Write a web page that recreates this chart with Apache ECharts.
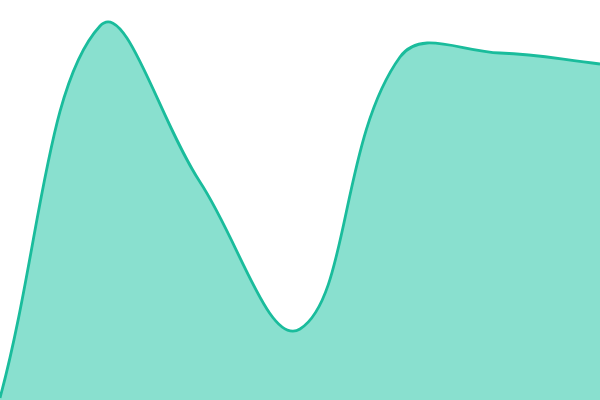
<!DOCTYPE html>
<html>
<head>
<meta charset="UTF-8">
<title></title>
<style>
	* { margin: 0; padding: 0; }
	#main { width: 600px; height: 400px; background: #fff; }
</style>
<script src="https://cdn.jsdelivr.net/npm/echarts@6/dist/echarts.min.js"></script>
</head>
<body>
<div id="main"></div>
<script>
	var categories = ['1', '2', '3', '4', '5', '6', '7'];
	var values = [2, 374, 218, 71, 343, 347, 336];

	var lineColor = '#1abc9c';
	var tension = 0.4;

	// spline through the points, with control points weighted by segment length
	function buildPath(pts) {
		var cps = [];
		for (var i = 0; i < pts.length; i++) {
			var p = pts[i];
			var prev = pts[i - 1] || p;
			var next = pts[i + 1] || p;
			var d01 = Math.hypot(p[0] - prev[0], p[1] - prev[1]);
			var d12 = Math.hypot(next[0] - p[0], next[1] - p[1]);
			var sum = d01 + d12 || 1;
			var fa = tension * d01 / sum;
			var fb = tension * d12 / sum;
			var vx = next[0] - prev[0];
			var vy = next[1] - prev[1];
			cps.push({
				before: [p[0] - fa * vx, p[1] - fa * vy],
				after: [p[0] + fb * vx, p[1] + fb * vy]
			});
		}
		var d = 'M' + pts[0][0] + ' ' + pts[0][1];
		for (var j = 1; j < pts.length; j++) {
			var c1 = cps[j - 1].after;
			var c2 = cps[j].before;
			d += ' C' + c1[0] + ' ' + c1[1] + ' ' + c2[0] + ' ' + c2[1] + ' ' + pts[j][0] + ' ' + pts[j][1];
		}
		return d;
	}

	var myChart = echarts.init(document.getElementById('main'));
	var option = {
		animation: false,
		grid: { left: 0, right: 0, top: 0, bottom: 0 },
		xAxis: {
			type: 'category',
			boundaryGap: false,
			show: false,
			data: categories
		},
		yAxis: {
			type: 'value',
			show: false,
			min: 0,
			max: 400
		},
		series: [{
			type: 'custom',
			data: values.map(function (v, i) { return [i, v]; }),
			renderItem: function (params, api) {
				if (params.dataIndex !== 0) return;
				var pts = values.map(function (v, i) { return api.coord([i, v]); });
				var line = buildPath(pts);
				var base = api.coord([0, 0])[1];
				var last = pts[pts.length - 1];
				var area = line + ' L' + last[0] + ' ' + base + ' L' + pts[0][0] + ' ' + base + ' Z';
				return {
					type: 'group',
					children: [{
						type: 'path',
						shape: { pathData: area },
						style: { fill: '#89e0cf' }
					}, {
						type: 'path',
						shape: { pathData: line },
						style: { fill: 'none', stroke: lineColor, lineWidth: 2.8 }
					}]
				};
			}
		}]
	};
	myChart.setOption(option);
</script>
</body>
</html>
